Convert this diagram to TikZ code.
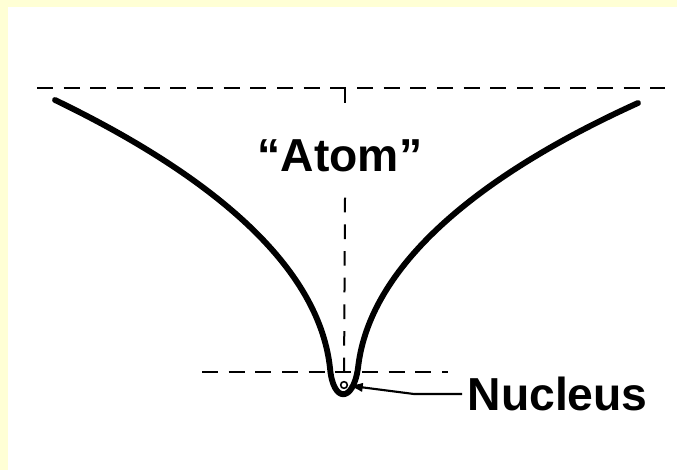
\documentclass[tikz,border=0pt]{standalone}
\usepackage{fontspec}
\setmainfont{Liberation Sans}
\usetikzlibrary{arrows.meta}
\definecolor{FrameYellow}{HTML}{FFFFD5}

\begin{document}
\begin{tikzpicture}[x=0.75pt, y=-0.75pt,
  hdash/.style={line width=2.2pt, dash pattern=on 12pt off 8pt},
  vdash/.style={line width=1.5pt, dash pattern=on 11pt off 9pt},
  well/.style={line width=4.4pt, line cap=round, line join=round},
  label/.style={font=\bfseries\fontsize{34.7}{40}\selectfont}]
  \useasboundingbox (0,0) rectangle (677,470);
  \fill[FrameYellow] (0,0) rectangle (677,470);
  \fill[white] (8,7) rectangle (677,470);
  % levels
  \coordinate (topL) at (37,88);
  \coordinate (topR) at (665,88);
  \coordinate (botL) at (202,372);
  \coordinate (botR) at (448,372);
  \coordinate (vtop) at (345,88);
  \draw[hdash] (topL) -- (topR);
  \draw[hdash] (botL) -- (botR);
  % labels
  \node[label, inner xsep=0pt, inner ysep=19pt] (atom) at (340,156) {“Atom”};
  \node[circle, draw, line width=1.2pt, inner sep=0pt, minimum size=5pt] (nuc) at (344,385) {};
  \node[label, anchor=west, inner sep=4pt] (nucleus) at (462,394) {Nucleus};
  \draw[vdash] (vtop) -- (vtop |- atom.north);
  \draw[vdash] (vtop |- atom.south) -- (nuc.north);
  % potential well
  \draw[well] (55,100) .. controls (200,170) and (318,260) .. (330,368)
    .. controls (333,403) and (353,403) .. (358,368)
    .. controls (370,260) and (490,170) .. (638,103);
  \draw[line width=1.6pt, -{Latex[length=11pt, width=7pt]}] (nucleus.west) -- ++(-48,0) -- (nuc);
\end{tikzpicture}
\end{document}
